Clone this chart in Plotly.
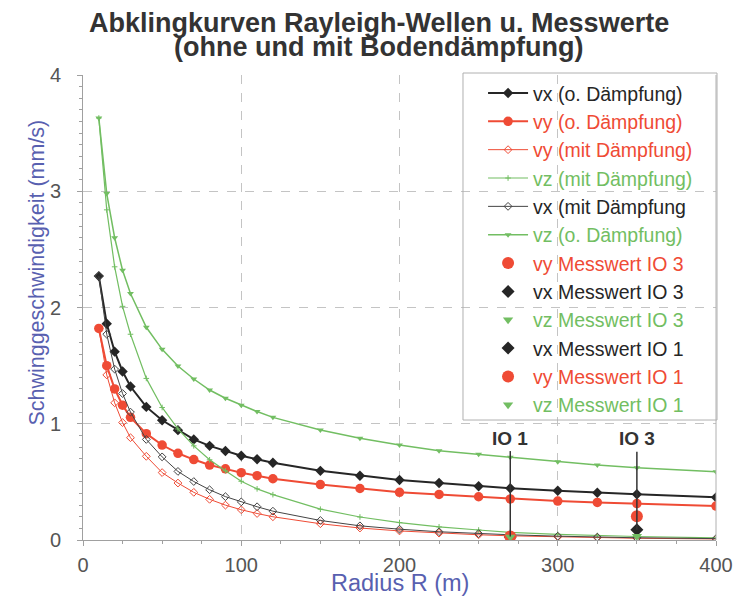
import plotly.graph_objects as go

# ---------------- data ----------------
radius = [10, 15, 20, 25, 30, 40, 50, 60, 70, 80, 90, 100, 110, 120,
          150, 175, 200, 225, 250, 270, 300, 325, 350, 400]

vx_ohne = [2.27, 1.86, 1.62, 1.45, 1.32, 1.145, 1.03, 0.945, 0.865, 0.81, 0.765, 0.725, 0.695, 0.665,
           0.595, 0.553, 0.516, 0.49, 0.462, 0.445, 0.424, 0.407, 0.393, 0.367]
vy_ohne = [1.82, 1.50, 1.30, 1.16, 1.055, 0.915, 0.817, 0.746, 0.692, 0.645, 0.612, 0.579, 0.553, 0.527,
           0.477, 0.443, 0.41, 0.392, 0.372, 0.353, 0.335, 0.323, 0.313, 0.292]
vz_ohne = [3.63, 2.98, 2.60, 2.32, 2.12, 1.83, 1.64, 1.497, 1.385, 1.29, 1.219, 1.16, 1.105, 1.055,
           0.946, 0.875, 0.817, 0.768, 0.737, 0.711, 0.674, 0.645, 0.622, 0.588]
vx_mit = [2.27, 1.77, 1.47, 1.26, 1.10, 0.865, 0.715, 0.59, 0.503, 0.432, 0.373, 0.328, 0.286, 0.248,
          0.168, 0.122, 0.093, 0.071, 0.055, 0.045, 0.033, 0.025, 0.019, 0.012]
vy_mit = [1.82, 1.42, 1.18, 1.01, 0.88, 0.72, 0.58, 0.49, 0.41, 0.35, 0.30, 0.26, 0.228, 0.20,
          0.140, 0.103, 0.078, 0.059, 0.045, 0.036, 0.027, 0.020, 0.015, 0.009]
vz_mit = [3.63, 2.84, 2.35, 2.01, 1.77, 1.39, 1.14, 0.955, 0.81, 0.69, 0.595, 0.505, 0.44, 0.39,
          0.265, 0.198, 0.15, 0.113, 0.086, 0.066, 0.049, 0.038, 0.03, 0.019]

# measured values
io3_r = [350]
io3_vy = [0.205]
io3_vx = [0.088]
io3_vz = [0.033]
io1_r = [270]
io1_vx = [0.025]
io1_vy = [0.03]
io1_vz = [0.025]

# measurement point labels
io_labels = ["IO 1", "IO 3"]
io_r = [270, 350]
io_line_bottom = [0.03, 0.088]
io_line_top = [0.765, 0.76]
io_label_y = 0.87

# ---------------- styles ----------------
BLACK = "#262626"
RED = "#ef4b35"
GREEN = "#72be62"
AXIS_BLUE = "#5860b0"
FONT = "Liberation Sans, Arial, sans-serif"


def nm(text, color):
    return f'<span style="color:{color}">{text}</span>'


fig = go.Figure()

fig.add_trace(go.Scatter(x=radius, y=vx_ohne, mode="lines+markers", name=nm("vx (o. Dämpfung)", BLACK),
                         line=dict(color=BLACK, width=2), marker=dict(symbol="diamond", size=8, color=BLACK)))
fig.add_trace(go.Scatter(x=radius, y=vy_ohne, mode="lines+markers", name=nm("vy (o. Dämpfung)", RED),
                         line=dict(color=RED, width=2), marker=dict(symbol="circle", size=9.5, color=RED)))
fig.add_trace(go.Scatter(x=radius, y=vy_mit, mode="lines+markers", name=nm("vy (mit Dämpfung)", RED),
                         line=dict(color=RED, width=1),
                         marker=dict(symbol="diamond-open", size=6, color=RED, line=dict(width=1))))
fig.add_trace(go.Scatter(x=radius, y=vz_mit, mode="lines+markers", name=nm("vz (mit Dämpfung)", GREEN),
                         line=dict(color=GREEN, width=1.2),
                         marker=dict(symbol="cross-thin-open", size=4, color=GREEN, line=dict(width=1, color=GREEN))))
fig.add_trace(go.Scatter(x=radius, y=vx_mit, mode="lines+markers", name=nm("vx (mit Dämpfung", BLACK),
                         line=dict(color="#444444", width=1),
                         marker=dict(symbol="diamond-open", size=6, color="#444444", line=dict(width=1))))
fig.add_trace(go.Scatter(x=radius, y=vz_ohne, mode="lines+markers", name=nm("vz (o. Dämpfung)", GREEN),
                         line=dict(color=GREEN, width=1.5),
                         marker=dict(symbol="triangle-down", size=6, color=GREEN)))

fig.add_trace(go.Scatter(x=io3_r, y=io3_vy, mode="markers", name=nm("vy Messwert IO 3", RED),
                         marker=dict(symbol="circle", size=12, color=RED)))
fig.add_trace(go.Scatter(x=io3_r, y=io3_vx, mode="markers", name=nm("vx Messwert IO 3", BLACK),
                         marker=dict(symbol="diamond", size=10, color=BLACK)))
fig.add_trace(go.Scatter(x=io3_r, y=io3_vz, mode="markers", name=nm("vz Messwert IO 3", GREEN),
                         marker=dict(symbol="triangle-down", size=9, color=GREEN)))
fig.add_trace(go.Scatter(x=io1_r, y=io1_vx, mode="markers", name=nm("vx Messwert IO 1", BLACK),
                         marker=dict(symbol="diamond", size=10, color=BLACK)))
fig.add_trace(go.Scatter(x=io1_r, y=io1_vy, mode="markers", name=nm("vy Messwert IO 1", RED),
                         marker=dict(symbol="circle", size=12, color=RED)))
fig.add_trace(go.Scatter(x=io1_r, y=io1_vz, mode="markers", name=nm("vz Messwert IO 1", GREEN),
                         marker=dict(symbol="triangle-down", size=9, color=GREEN)))

# IO marker lines and labels
for lab, r, yb, yt in zip(io_labels, io_r, io_line_bottom, io_line_top):
    fig.add_shape(type="line", xref="x", yref="y", x0=r, x1=r, y0=yb, y1=yt,
                  line=dict(color="#333333", width=1.5))
    fig.add_annotation(x=r, y=io_label_y, xref="x", yref="y", text=f"<b>{lab}</b>", showarrow=False,
                       font=dict(family=FONT, size=19, color="#333333"), xanchor="center", yanchor="middle")

# right frame line
fig.add_shape(type="line", xref="paper", yref="paper", x0=1, x1=1, y0=0, y1=1,
              line=dict(color="#b0b0b0", width=1))
# legend frame
fig.add_shape(type="rect", xref="paper", yref="paper", x0=0.6003, x1=1.0016, y0=0.258, y1=1.0043,
              line=dict(color="#b0b0b0", width=1), fillcolor="rgba(0,0,0,0)", layer="above")

# titles
fig.add_annotation(x=0.4676, y=1.1108, xref="paper", yref="paper", showarrow=False,
                   text="<b>Abklingkurven Rayleigh-Wellen u. Messwerte</b>",
                   font=dict(family=FONT, size=27, color="#333333"), xanchor="center", yanchor="middle")
fig.add_annotation(x=0.4676, y=1.0602, xref="paper", yref="paper", showarrow=False,
                   text="<b>(ohne und mit Bodendämpfung)</b>",
                   font=dict(family=FONT, size=27, color="#333333"), xanchor="center", yanchor="middle")
fig.add_annotation(x=-0.0727, y=0.575, xref="paper", yref="paper", showarrow=False,
                   text="Schwinggeschwindigkeit (mm/s)", textangle=-90,
                   font=dict(family=FONT, size=21.5, color=AXIS_BLUE), xanchor="center", yanchor="middle")
fig.add_annotation(x=0.5, y=-0.0925, xref="paper", yref="paper", showarrow=False,
                   text="Radius R (m)",
                   font=dict(family=FONT, size=23.5, color=AXIS_BLUE), xanchor="center", yanchor="middle")

axis_common = dict(showline=True, linecolor="#a0a0a0", linewidth=1, ticks="outside", ticklen=5,
                   tickcolor="#a0a0a0", showgrid=True, gridcolor="#c4c4c4", griddash="dash",
                   zeroline=False, tickfont=dict(family=FONT, size=20, color="#555555"), automargin=False)

fig.update_xaxes(range=[0, 400], dtick=100, tick0=0, ticklabelstandoff=2,
                 minor=dict(dtick=25, ticks="outside", ticklen=3, tickcolor="#a0a0a0", showgrid=False),
                 **axis_common)
fig.update_yaxes(range=[0, 4], dtick=1, tick0=0, ticklabelstandoff=12,
                 minor=dict(dtick=0.1, ticks="outside", ticklen=3, tickcolor="#a0a0a0", showgrid=False),
                 **axis_common)

# page body has an 8px margin: figure is shrunk so that plot lands at the right pixels
fig.update_layout(
    width=741, height=594,
    margin=dict(l=75, r=33, t=67, b=62, autoexpand=False),
    plot_bgcolor="white", paper_bgcolor="white",
    font=dict(family=FONT),
    legend=dict(x=0.632, y=1.0026, xanchor="left", yanchor="top",
                bgcolor="rgba(0,0,0,0)", borderwidth=0,
                font=dict(family=FONT, size=19.5), itemwidth=40, tracegroupgap=0, maxheight=480),
    showlegend=True,
)

fig.write_html("out.html")
